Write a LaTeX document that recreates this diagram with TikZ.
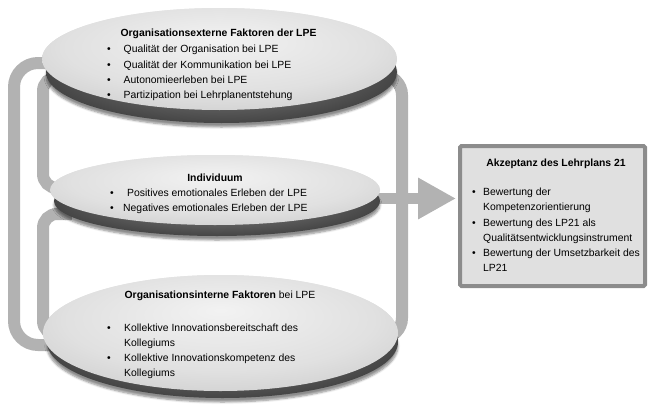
\documentclass[tikz,border=0pt]{standalone}
\usepackage{fontspec}
\setmainfont{Liberation Sans}
\usetikzlibrary{shapes.geometric,shadows,shadows.blur,calc,arrows.meta}
\pgfdeclareradialshading{discface}{\pgfpoint{0bp}{10bp}}{color(0bp)=(gray!10); color(22bp)=(gray!24); color(38bp)=(gray!44); color(50bp)=(gray!75)}
\pgfdeclareradialshading{discrim}{\pgfpoint{0bp}{0bp}}{color(0bp)=(black!45); color(36bp)=(black!85); color(44bp)=(black!75); color(50bp)=(black!55)}
\newcommand{\bul}[1][16.5pt]{\makebox[#1][l]{\textbullet}}
\tikzset{
  band/.style={line width=12pt, draw=gray!60, rounded corners=14pt},
  outerband/.style={band, rounded corners=24pt},
  flowband/.style={line width=11.5pt, draw=gray!60, -{Triangle[length=38pt, width=39pt]}},
  surface/.style={ellipse, inner sep=0pt, shade, shading=discface},
  rim/.style={ellipse, inner sep=0pt, shade, shading=discrim,
    blur shadow={shadow xshift=0pt, shadow yshift=-4pt, shadow blur steps=6, shadow opacity=45}},
  disctitle/.style={anchor=base, font=\fontsize{10.4}{15.2}\selectfont\bfseries},
  disclist/.style={anchor=base west, align=left, inner sep=0pt, font=\fontsize{10.4}{15.2}\selectfont},
  accbox/.style={draw=gray!90, line width=4pt, fill=gray!24, rounded corners=1.5pt,
    drop shadow={opacity=0.25, shadow xshift=1.5pt, shadow yshift=-1.5pt}}
}
\begin{document}
\begin{tikzpicture}[x=1pt, y=-1pt]
  \useasboundingbox (0,0) rectangle (648,407);
  % discs, placed first so the bands can hook onto them
  \path (219.5,59) node[surface, minimum width=355pt, minimum height=102pt] (ext) {};
  \path (215,190) node[surface, minimum width=330pt, minimum height=70pt] (ind) {};
  \path (220.5,333) node[surface, minimum width=355pt, minimum height=116pt] (int) {};
  \node[accbox, minimum width=185pt, minimum height=140pt] (acc) at (552.5,216) {};
  \coordinate (tipend) at ($(acc.north west)+(-2,54.5)$);

  % bands behind the discs
  \draw[outerband] ($(ext.west)+(12,4)$) -- (14,63) -- (14,345) -- ($(int.west)+(14,12)$);
  \draw[band] ($(ext.west)+(20,18)$) -- (43,77) -- (43,188) -- ($(ind.west)+(22,-2)$);
  \draw[band] ($(ind.west)+(22,24)$) -- (43,214) -- (43,335) -- ($(int.west)+(20,2)$);
  \draw[band, rounded corners=20pt] ($(ext.east)+(-15,16)$) -- (402,75) -- (402,338) -- ($(int.east)+(-15,5)$);
  \draw[flowband] ($(ind.east)+(-10,8.5)$) -- (tipend);

  % rims and faces
  \node[rim, minimum width=351pt, minimum height=102pt] (extrim) at (221.5,72) {};
  \node[surface, minimum width=355pt, minimum height=102pt] (extface) at (ext) {};
  \node[rim, minimum width=326pt, minimum height=70pt] (indrim) at (217,201) {};
  \node[surface, minimum width=330pt, minimum height=70pt] (indface) at (ind) {};
  \node[rim, minimum width=351pt, minimum height=112pt] (intrim) at (222.5,342) {};
  \node[surface, minimum width=355pt, minimum height=116pt] (intface) at (int) {};

  % texts
  \node[disctitle] (exttitle) at (218.5,36.5) {Organisationsexterne Faktoren der LPE};
  \node[disclist] (extlist) at (107,98.5) {\bul Qualität der Organisation bei LPE\\
    \bul Qualität der Kommunikation bei LPE\\
    \bul Autonomieerleben bei LPE\\
    \bul Partizipation bei Lehrplanentstehung};
  \node[disctitle] (indtitle) at (215,181.5) {Individuum};
  \node[disclist] (indlist) at (110,211.7) {\bul[17pt]Positives emotionales Erleben der LPE\\
    \bul[13pt]Negatives emotionales Erleben der LPE};
  \node[disctitle, font=\fontsize{10.4}{15.2}\selectfont] (inttitle) at (220,298.5) {\textbf{Organisationsinterne Faktoren} bei LPE};
  \node[disclist] (intlist) at (107,376.7) {\bul[17pt]Kollektive Innovationsbereitschaft des\\
    \hspace*{17pt}Kollegiums\\
    \bul[17pt]Kollektive Innovationskompetenz des\\
    \hspace*{17pt}Kollegiums};
  \node[disctitle] (acctitle) at (556,166.5) {Akzeptanz des Lehrplans 21};
  \node[disclist] (acclist) at (472,271.7) {\bul[11pt]Bewertung der\\
    \hspace*{11pt}Kompetenzorientierung\\
    \bul[11pt]Bewertung des LP21 als\\
    \hspace*{11pt}Qualitätsentwicklungsinstrument\\
    \bul[11pt]Bewertung der Umsetzbarkeit des\\
    \hspace*{11pt}LP21};
\end{tikzpicture}
\end{document}
